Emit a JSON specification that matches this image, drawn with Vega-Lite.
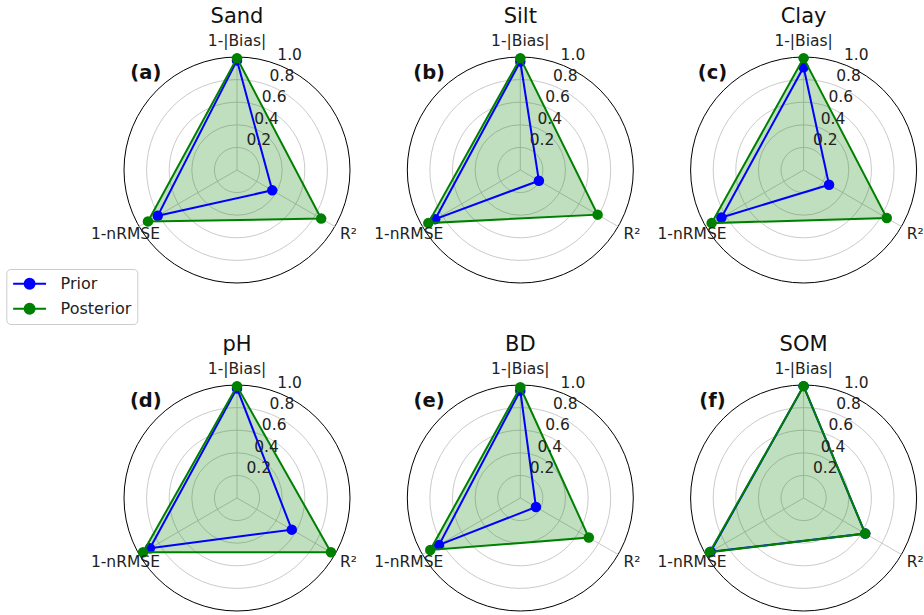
{
  "$schema": "https://vega.github.io/schema/vega-lite/v6.json",
  "padding": {"left": 5, "top": 5, "right": 0, "bottom": 0},
  "autosize": {"type": "pad"},
  "bounds": "flush",
  "config": {"view": {"stroke": null}, "font": "DejaVu Sans"},
  "data": {"values": [
    {"p": "Sand", "t": "(a)", "rings": [0.2, 0.4, 0.6, 0.8, 1.0]},
    {"p": "Silt", "t": "(b)", "rings": [0.2, 0.4, 0.6, 0.8, 1.0]},
    {"p": "Clay", "t": "(c)", "rings": [0.2, 0.4, 0.6, 0.8, 1.0]},
    {"p": "pH", "t": "(d)", "rings": [0.2, 0.4, 0.6, 0.8, 1.0]},
    {"p": "BD", "t": "(e)", "rings": [0.2, 0.4, 0.6, 0.8, 1.0]},
    {"p": "SOM", "t": "(f)", "rings": [0.2, 0.4, 0.6, 0.8, 1.0]},
    {"p": "Sand", "m": "Prior", "k": "1-|Bias|", "i": 0, "v": 0.97},
    {"p": "Sand", "m": "Prior", "k": "R²", "i": 1, "v": 0.36},
    {"p": "Sand", "m": "Prior", "k": "1-nRMSE", "i": 2, "v": 0.81},
    {"p": "Sand", "m": "Posterior", "k": "1-|Bias|", "i": 0, "v": 0.99},
    {"p": "Sand", "m": "Posterior", "k": "R²", "i": 1, "v": 0.86},
    {"p": "Sand", "m": "Posterior", "k": "1-nRMSE", "i": 2, "v": 0.91},
    {"p": "Silt", "m": "Prior", "k": "1-|Bias|", "i": 0, "v": 0.96},
    {"p": "Silt", "m": "Prior", "k": "R²", "i": 1, "v": 0.19},
    {"p": "Silt", "m": "Prior", "k": "1-nRMSE", "i": 2, "v": 0.87},
    {"p": "Silt", "m": "Posterior", "k": "1-|Bias|", "i": 0, "v": 0.99},
    {"p": "Silt", "m": "Posterior", "k": "R²", "i": 1, "v": 0.79},
    {"p": "Silt", "m": "Posterior", "k": "1-nRMSE", "i": 2, "v": 0.94},
    {"p": "Clay", "m": "Prior", "k": "1-|Bias|", "i": 0, "v": 0.91},
    {"p": "Clay", "m": "Prior", "k": "R²", "i": 1, "v": 0.26},
    {"p": "Clay", "m": "Prior", "k": "1-nRMSE", "i": 2, "v": 0.84},
    {"p": "Clay", "m": "Posterior", "k": "1-|Bias|", "i": 0, "v": 0.99},
    {"p": "Clay", "m": "Posterior", "k": "R²", "i": 1, "v": 0.85},
    {"p": "Clay", "m": "Posterior", "k": "1-nRMSE", "i": 2, "v": 0.94},
    {"p": "pH", "m": "Prior", "k": "1-|Bias|", "i": 0, "v": 0.97},
    {"p": "pH", "m": "Prior", "k": "R²", "i": 1, "v": 0.56},
    {"p": "pH", "m": "Prior", "k": "1-nRMSE", "i": 2, "v": 0.89},
    {"p": "pH", "m": "Posterior", "k": "1-|Bias|", "i": 0, "v": 0.99},
    {"p": "pH", "m": "Posterior", "k": "R²", "i": 1, "v": 0.96},
    {"p": "pH", "m": "Posterior", "k": "1-nRMSE", "i": 2, "v": 0.96},
    {"p": "BD", "m": "Prior", "k": "1-|Bias|", "i": 0, "v": 0.95},
    {"p": "BD", "m": "Prior", "k": "R²", "i": 1, "v": 0.16},
    {"p": "BD", "m": "Prior", "k": "1-nRMSE", "i": 2, "v": 0.83},
    {"p": "BD", "m": "Posterior", "k": "1-|Bias|", "i": 0, "v": 0.98},
    {"p": "BD", "m": "Posterior", "k": "R²", "i": 1, "v": 0.70},
    {"p": "BD", "m": "Posterior", "k": "1-nRMSE", "i": 2, "v": 0.92},
    {"p": "SOM", "m": "Prior", "k": "1-|Bias|", "i": 0, "v": 0.99},
    {"p": "SOM", "m": "Prior", "k": "R²", "i": 1, "v": 0.63},
    {"p": "SOM", "m": "Prior", "k": "1-nRMSE", "i": 2, "v": 0.95},
    {"p": "SOM", "m": "Posterior", "k": "1-|Bias|", "i": 0, "v": 0.99},
    {"p": "SOM", "m": "Posterior", "k": "R²", "i": 1, "v": 0.63},
    {"p": "SOM", "m": "Posterior", "k": "1-nRMSE", "i": 2, "v": 0.96}
  ]},
  "facet": {"field": "p", "type": "nominal", "sort": ["Sand", "Silt", "Clay", "pH", "BD", "SOM"],
    "header": {"title": null, "labelFontSize": 21, "labelFont": "DejaVu Sans", "labelColor": "#111111", "labelBaseline": "alphabetic", "labelPadding": -9.7}},
  "columns": 3,
  "spacing": {"row": 102, "column": 57.3},
  "spec": {
    "width": 226,
    "height": 226,
    "layer": [
      {
        "transform": [{"filter": "isValid(datum.t)"}, {"flatten": ["rings"], "as": ["ring"]}, {"calculate": "0", "as": "o"}],
        "mark": {"type": "arc", "filled": false, "theta": 0, "theta2": 6.2832},
        "encoding": {
          "x": {"field": "o", "type": "quantitative", "scale": {"domain": [-1, 1], "nice": false, "zero": false}, "axis": null},
          "y": {"field": "o", "type": "quantitative", "scale": {"domain": [-1, 1], "nice": false, "zero": false}, "axis": null},
          "radius": {"field": "ring", "type": "quantitative", "stack": null, "scale": {"type": "linear", "domain": [0, 1], "range": [0, 113], "zero": true}},
          "stroke": {"condition": {"test": "datum.ring >= 1", "value": "#000000"}, "value": "#c4c4c4"},
          "strokeWidth": {"condition": {"test": "datum.ring >= 1", "value": 1}, "value": 0.9}
        }
      },
      {
        "transform": [
          {"filter": "datum.m === 'Posterior'"},
          {"calculate": "0", "as": "o"},
          {"calculate": "PI/2 - 2*PI*datum.i/3", "as": "ang"},
          {"calculate": "cos(datum.ang)", "as": "cx"},
          {"calculate": "sin(datum.ang)", "as": "cy"}
        ],
        "mark": {"type": "rule", "stroke": "#c4c4c4", "strokeWidth": 0.9},
        "encoding": {
          "x": {"field": "o", "type": "quantitative"},
          "y": {"field": "o", "type": "quantitative"},
          "x2": {"field": "cx"},
          "y2": {"field": "cy"}
        }
      },
      {
        "transform": [
          {"filter": "datum.m === 'Posterior'"},
          {"calculate": "PI/2 - 2*PI*datum.i/3", "as": "ang"},
          {"calculate": "datum.v*cos(datum.ang)", "as": "x"},
          {"calculate": "datum.v*sin(datum.ang)", "as": "y"}
        ],
        "mark": {"type": "line", "interpolate": "linear-closed", "fill": "#008000", "fillOpacity": 0.25, "strokeWidth": 0},
        "encoding": {
          "x": {"field": "x", "type": "quantitative"},
          "y": {"field": "y", "type": "quantitative"},
          "order": {"field": "i", "type": "quantitative"}
        }
      },
      {
        "transform": [
          {"filter": "datum.m === 'Prior'"},
          {"calculate": "PI/2 - 2*PI*datum.i/3", "as": "ang"},
          {"calculate": "datum.v*cos(datum.ang)", "as": "x"},
          {"calculate": "datum.v*sin(datum.ang)", "as": "y"}
        ],
        "layer": [
          {"mark": {"type": "line", "interpolate": "linear-closed", "strokeWidth": 2}},
          {"mark": {"type": "point", "filled": true, "size": 110, "opacity": 1}}
        ],
        "encoding": {
          "x": {"field": "x", "type": "quantitative"},
          "y": {"field": "y", "type": "quantitative"},
          "order": {"field": "i", "type": "quantitative"},
          "color": {"field": "m", "type": "nominal", "scale": {"domain": ["Prior", "Posterior"], "range": ["#0000ff", "#008000"]},
            "legend": {"orient": "none", "legendX": -117.7, "legendY": 212, "title": null, "labelFontSize": 16, "labelColor": "#222222",
              "symbolType": "M-2.06,0L2.06,0M-0.62,0A0.62,0.62,0,1,1,0.62,0A0.62,0.62,0,1,1,-0.62,0Z",
              "symbolSize": 256, "symbolStrokeWidth": 2, "symbolOffset": 8.6, "labelOffset": 22, "rowPadding": 7, "padding": 5.7,
              "strokeColor": "#cccccc", "fillColor": "#ffffff", "cornerRadius": 4,
              "encode": {"symbols": {"update": {"fill": {"scale": "color", "field": "value"}, "stroke": {"scale": "color", "field": "value"}, "fillOpacity": {"value": 1}, "strokeWidth": {"value": 2}}}}}}
        }
      },
      {
        "transform": [
          {"filter": "datum.m === 'Posterior'"},
          {"calculate": "PI/2 - 2*PI*datum.i/3", "as": "ang"},
          {"calculate": "datum.v*cos(datum.ang)", "as": "x"},
          {"calculate": "datum.v*sin(datum.ang)", "as": "y"}
        ],
        "layer": [
          {"mark": {"type": "line", "interpolate": "linear-closed", "strokeWidth": 2}},
          {"mark": {"type": "point", "filled": true, "size": 110, "opacity": 1}}
        ],
        "encoding": {
          "x": {"field": "x", "type": "quantitative"},
          "y": {"field": "y", "type": "quantitative"},
          "order": {"field": "i", "type": "quantitative"},
          "color": {"field": "m", "type": "nominal", "scale": {"domain": ["Prior", "Posterior"], "range": ["#0000ff", "#008000"]},
            "legend": {"orient": "none", "legendX": -117.7, "legendY": 212, "title": null, "labelFontSize": 16, "labelColor": "#222222",
              "symbolType": "M-2.06,0L2.06,0M-0.62,0A0.62,0.62,0,1,1,0.62,0A0.62,0.62,0,1,1,-0.62,0Z",
              "symbolSize": 256, "symbolStrokeWidth": 2, "symbolOffset": 8.6, "labelOffset": 22, "rowPadding": 7, "padding": 5.7,
              "strokeColor": "#cccccc", "fillColor": "#ffffff", "cornerRadius": 4,
              "encode": {"symbols": {"update": {"fill": {"scale": "color", "field": "value"}, "stroke": {"scale": "color", "field": "value"}, "fillOpacity": {"value": 1}, "strokeWidth": {"value": 2}}}}}}
        }
      },
      {
        "transform": [
          {"filter": "datum.m === 'Posterior'"},
          {"calculate": "PI/2 - 2*PI*datum.i/3", "as": "ang"},
          {"calculate": "1.14*cos(datum.ang)", "as": "lx"},
          {"calculate": "1.14*sin(datum.ang)", "as": "ly"}
        ],
        "mark": {"type": "text", "fontSize": 15.5, "color": "#222222", "align": "center", "baseline": "middle"},
        "encoding": {
          "x": {"field": "lx", "type": "quantitative"},
          "y": {"field": "ly", "type": "quantitative"},
          "text": {"field": "k"}
        }
      },
      {
        "transform": [
          {"filter": "isValid(datum.t)"},
          {"flatten": ["rings"], "as": ["ring"]},
          {"calculate": "datum.ring*cos(70*PI/180)", "as": "rx"},
          {"calculate": "datum.ring*sin(70*PI/180)", "as": "ry"}
        ],
        "mark": {"type": "text", "fontSize": 15.5, "color": "#222222", "align": "center", "baseline": "middle", "dx": 14, "dy": -9},
        "encoding": {
          "x": {"field": "rx", "type": "quantitative"},
          "y": {"field": "ry", "type": "quantitative"},
          "text": {"field": "ring", "type": "quantitative", "format": ".1f"}
        }
      },
      {
        "transform": [{"filter": "isValid(datum.t)"}, {"calculate": "-0.807", "as": "tx"}, {"calculate": "0.86", "as": "ty"}],
        "mark": {"type": "text", "fontSize": 19.5, "fontWeight": "bold", "color": "#111111", "align": "center", "baseline": "middle"},
        "encoding": {
          "x": {"field": "tx", "type": "quantitative"},
          "y": {"field": "ty", "type": "quantitative"},
          "text": {"field": "t"}
        }
      }
    ]
  }
}
